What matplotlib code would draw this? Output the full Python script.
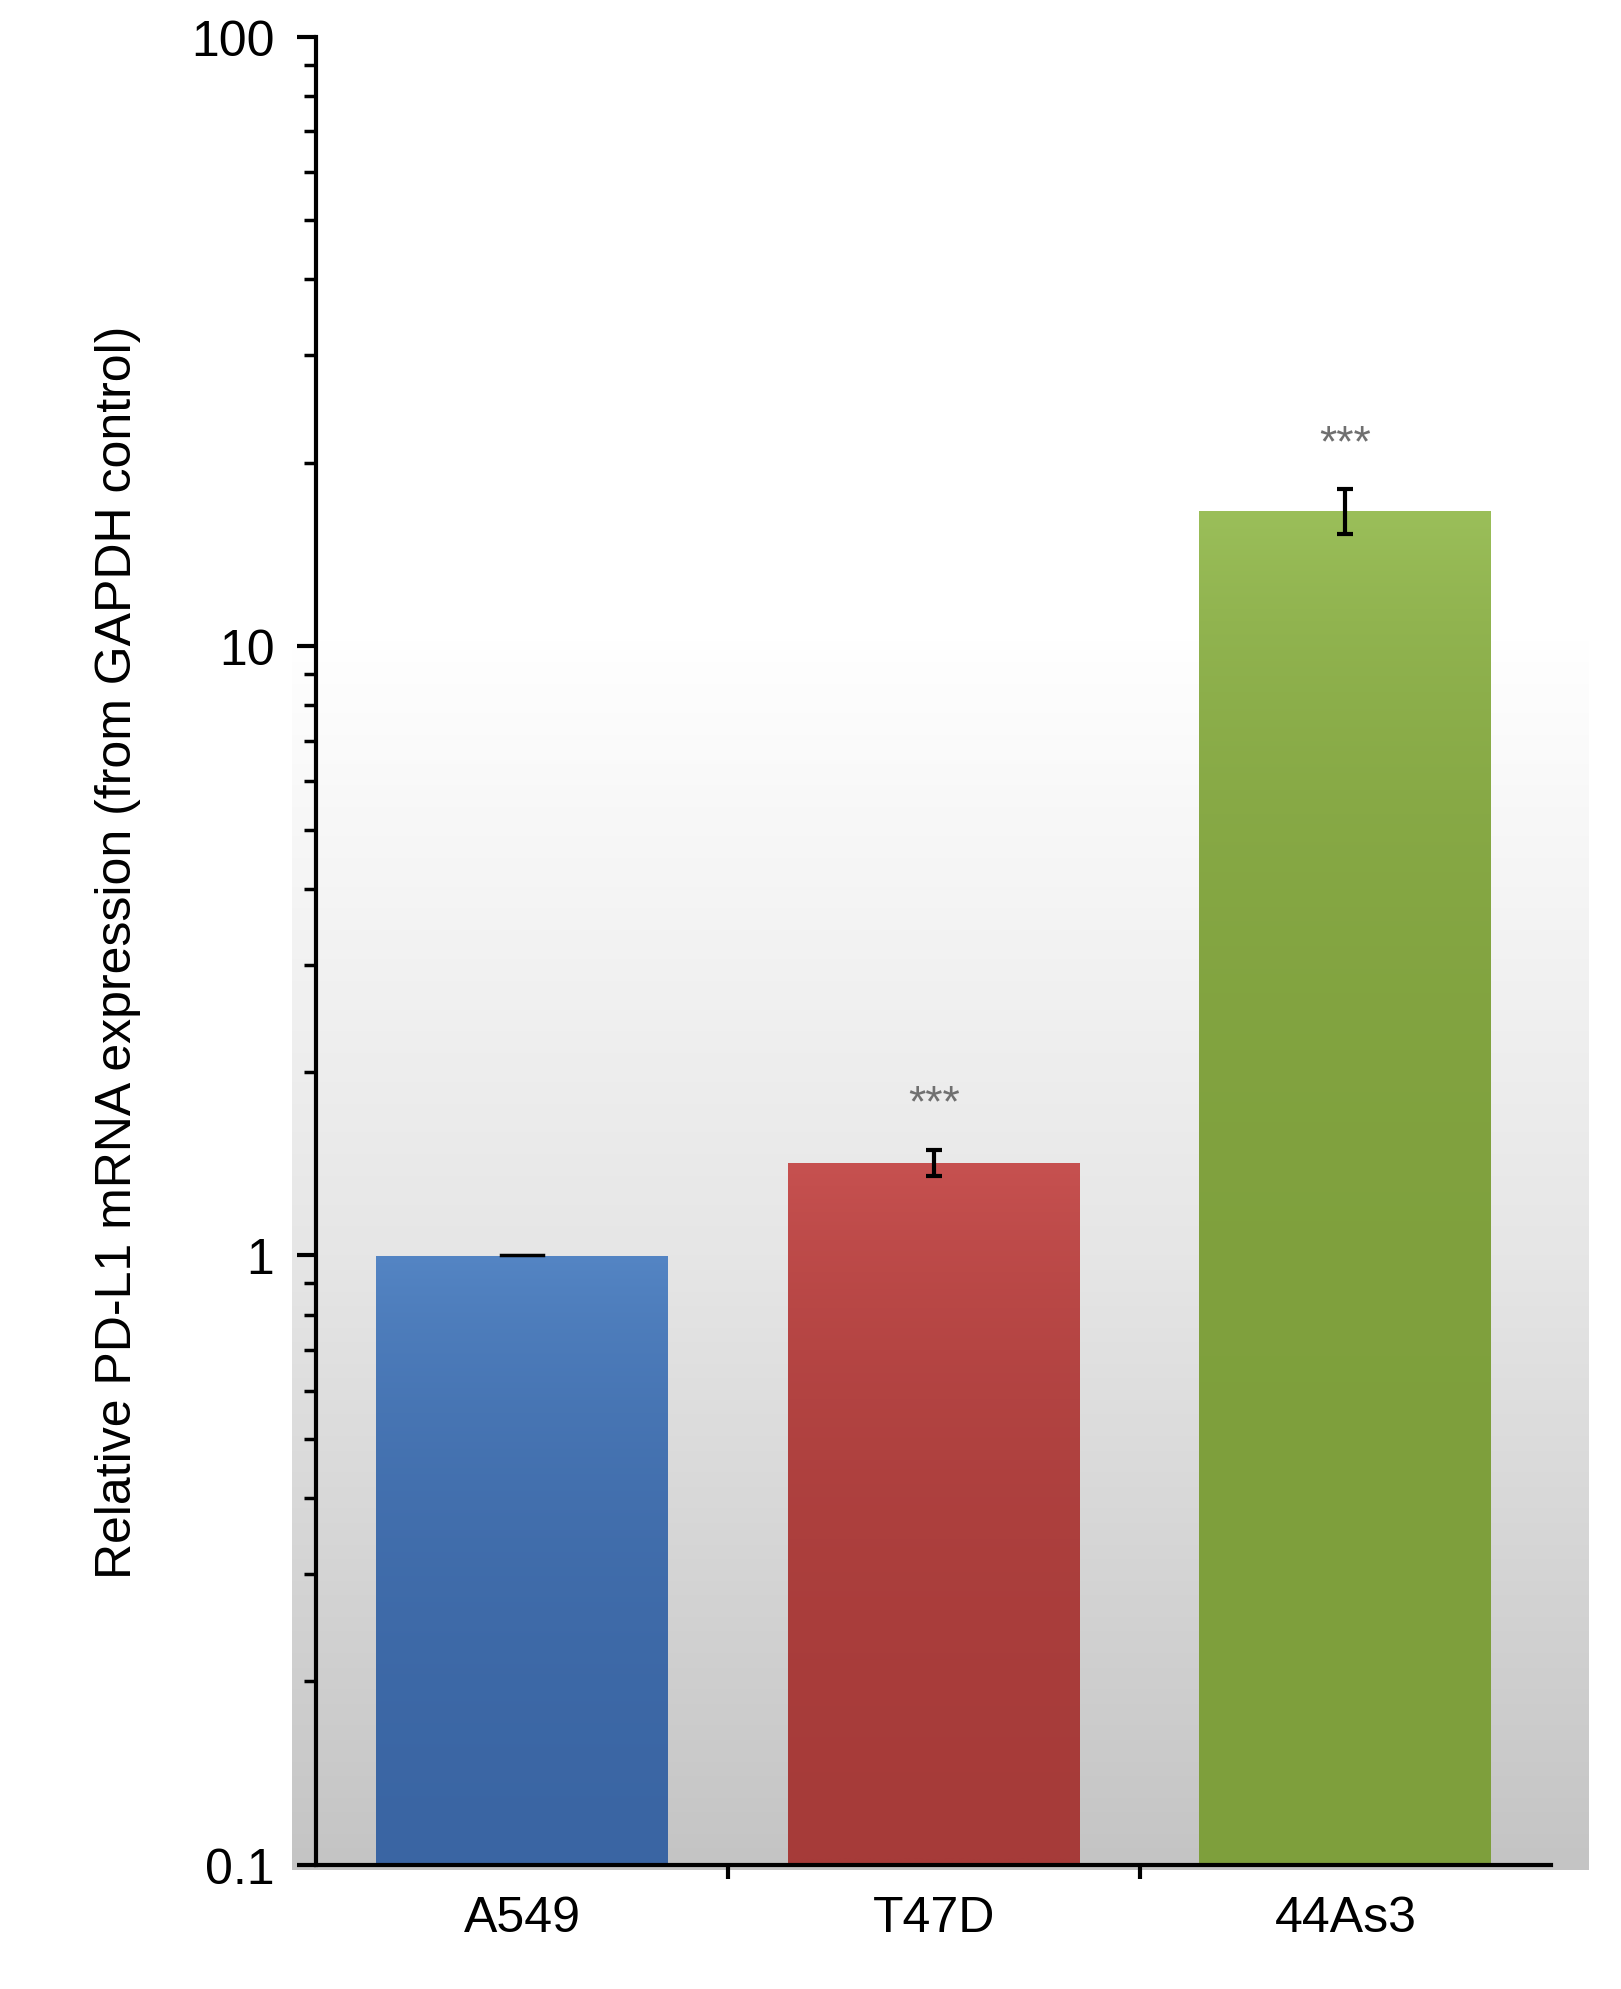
import numpy as np
import matplotlib.pyplot as plt
from matplotlib.colors import LinearSegmentedColormap
from matplotlib.ticker import LogLocator, NullFormatter, FixedLocator

plt.rcParams['font.family'] = ['Liberation Sans', 'DejaVu Sans']

categories = ["A549", "T47D", "44As3"]
values = [1.0, 1.42, 16.7]
errors = [0.01, 0.07, 1.4]
sig = ["", "***", "***"]
top_colors = ["#5485c4", "#c75150", "#9bbf5a"]
bot_colors = ["#3a65a3", "#a63b39", "#7e9f3c"]

fig = plt.figure(figsize=(16.21, 19.9), dpi=100)
fig.patch.set_facecolor("white")
bg = fig.add_axes([0.18, 0.06, 0.80, 0.93], zorder=0)
g = np.linspace(1, 0, 256).reshape(-1, 1)
bg.imshow(g, aspect="auto", cmap=LinearSegmentedColormap.from_list("bg", ["#c4c4c4", "#e6e6e6", "#ffffff", "#ffffff"]),
          extent=(0, 1, 0, 1))
bg.axis("off")

ax = fig.add_axes([0.195, 0.0624, 0.762, 0.9186], zorder=1)
ax.patch.set_alpha(0)
ax.set_yscale("log")
ax.set_ylim(0.1, 100)
ax.set_xlim(-0.5, 2.5)
x = np.arange(len(categories))
w = 0.71
bars = ax.bar(x, values, width=w, bottom=0.1, color="none", zorder=2)
grad = np.linspace(0, 1, 256).reshape(-1, 1)
for i, b in enumerate(bars):
    cm = LinearSegmentedColormap.from_list("c%d" % i, [top_colors[i], bot_colors[i]])
    im = ax.imshow(grad, aspect="auto", cmap=cm, extent=(x[i]-w/2, x[i]+w/2, 0.1, values[i]),
                   zorder=2, origin="upper")
    im.set_clip_path(b)
ax.set_xlim(-0.5, 2.5)
ax.set_ylim(0.1, 100)
ax.errorbar(x[1:], values[1:], yerr=errors[1:], fmt="none", ecolor="black", elinewidth=3,
            capsize=6, capthick=3, zorder=3)
ax.plot([x[0]-0.05, x[0]+0.05], [1, 1], color="black", lw=2.5, zorder=3)
for i in range(len(categories)):
    if sig[i]:
        ax.text(x[i], (values[i] + errors[i]) * 1.1, sig[i], ha="center", va="bottom",
                fontsize=32, color="#707070")

for s in ["top", "right"]:
    ax.spines[s].set_visible(False)
for s in ["left", "bottom"]:
    ax.spines[s].set_linewidth(3)
ax.set_xticks(x)
ax.set_xticklabels(categories, fontsize=36)
ax.xaxis.set_minor_locator(FixedLocator([0.5, 1.5]))
ax.tick_params(axis="x", which="major", length=0, pad=22)
ax.tick_params(axis="x", which="minor", length=10, width=3, direction="out")
ax.set_yticks([0.1, 1, 10, 100])
ax.set_yticklabels(["0.1", "1", "10", "100"], fontsize=36)
ax.yaxis.set_minor_locator(LogLocator(subs=np.arange(2, 10)))
ax.yaxis.set_minor_formatter(NullFormatter())
ax.tick_params(axis="y", which="major", length=14, width=3, direction="out", pad=16)
ax.tick_params(axis="y", which="minor", length=9, width=2.5, direction="out")
ax.set_ylabel("Relative PD-L1 mRNA expression (from GAPDH control)", fontsize=36, labelpad=36)
fig.savefig("out.png", dpi=100)
